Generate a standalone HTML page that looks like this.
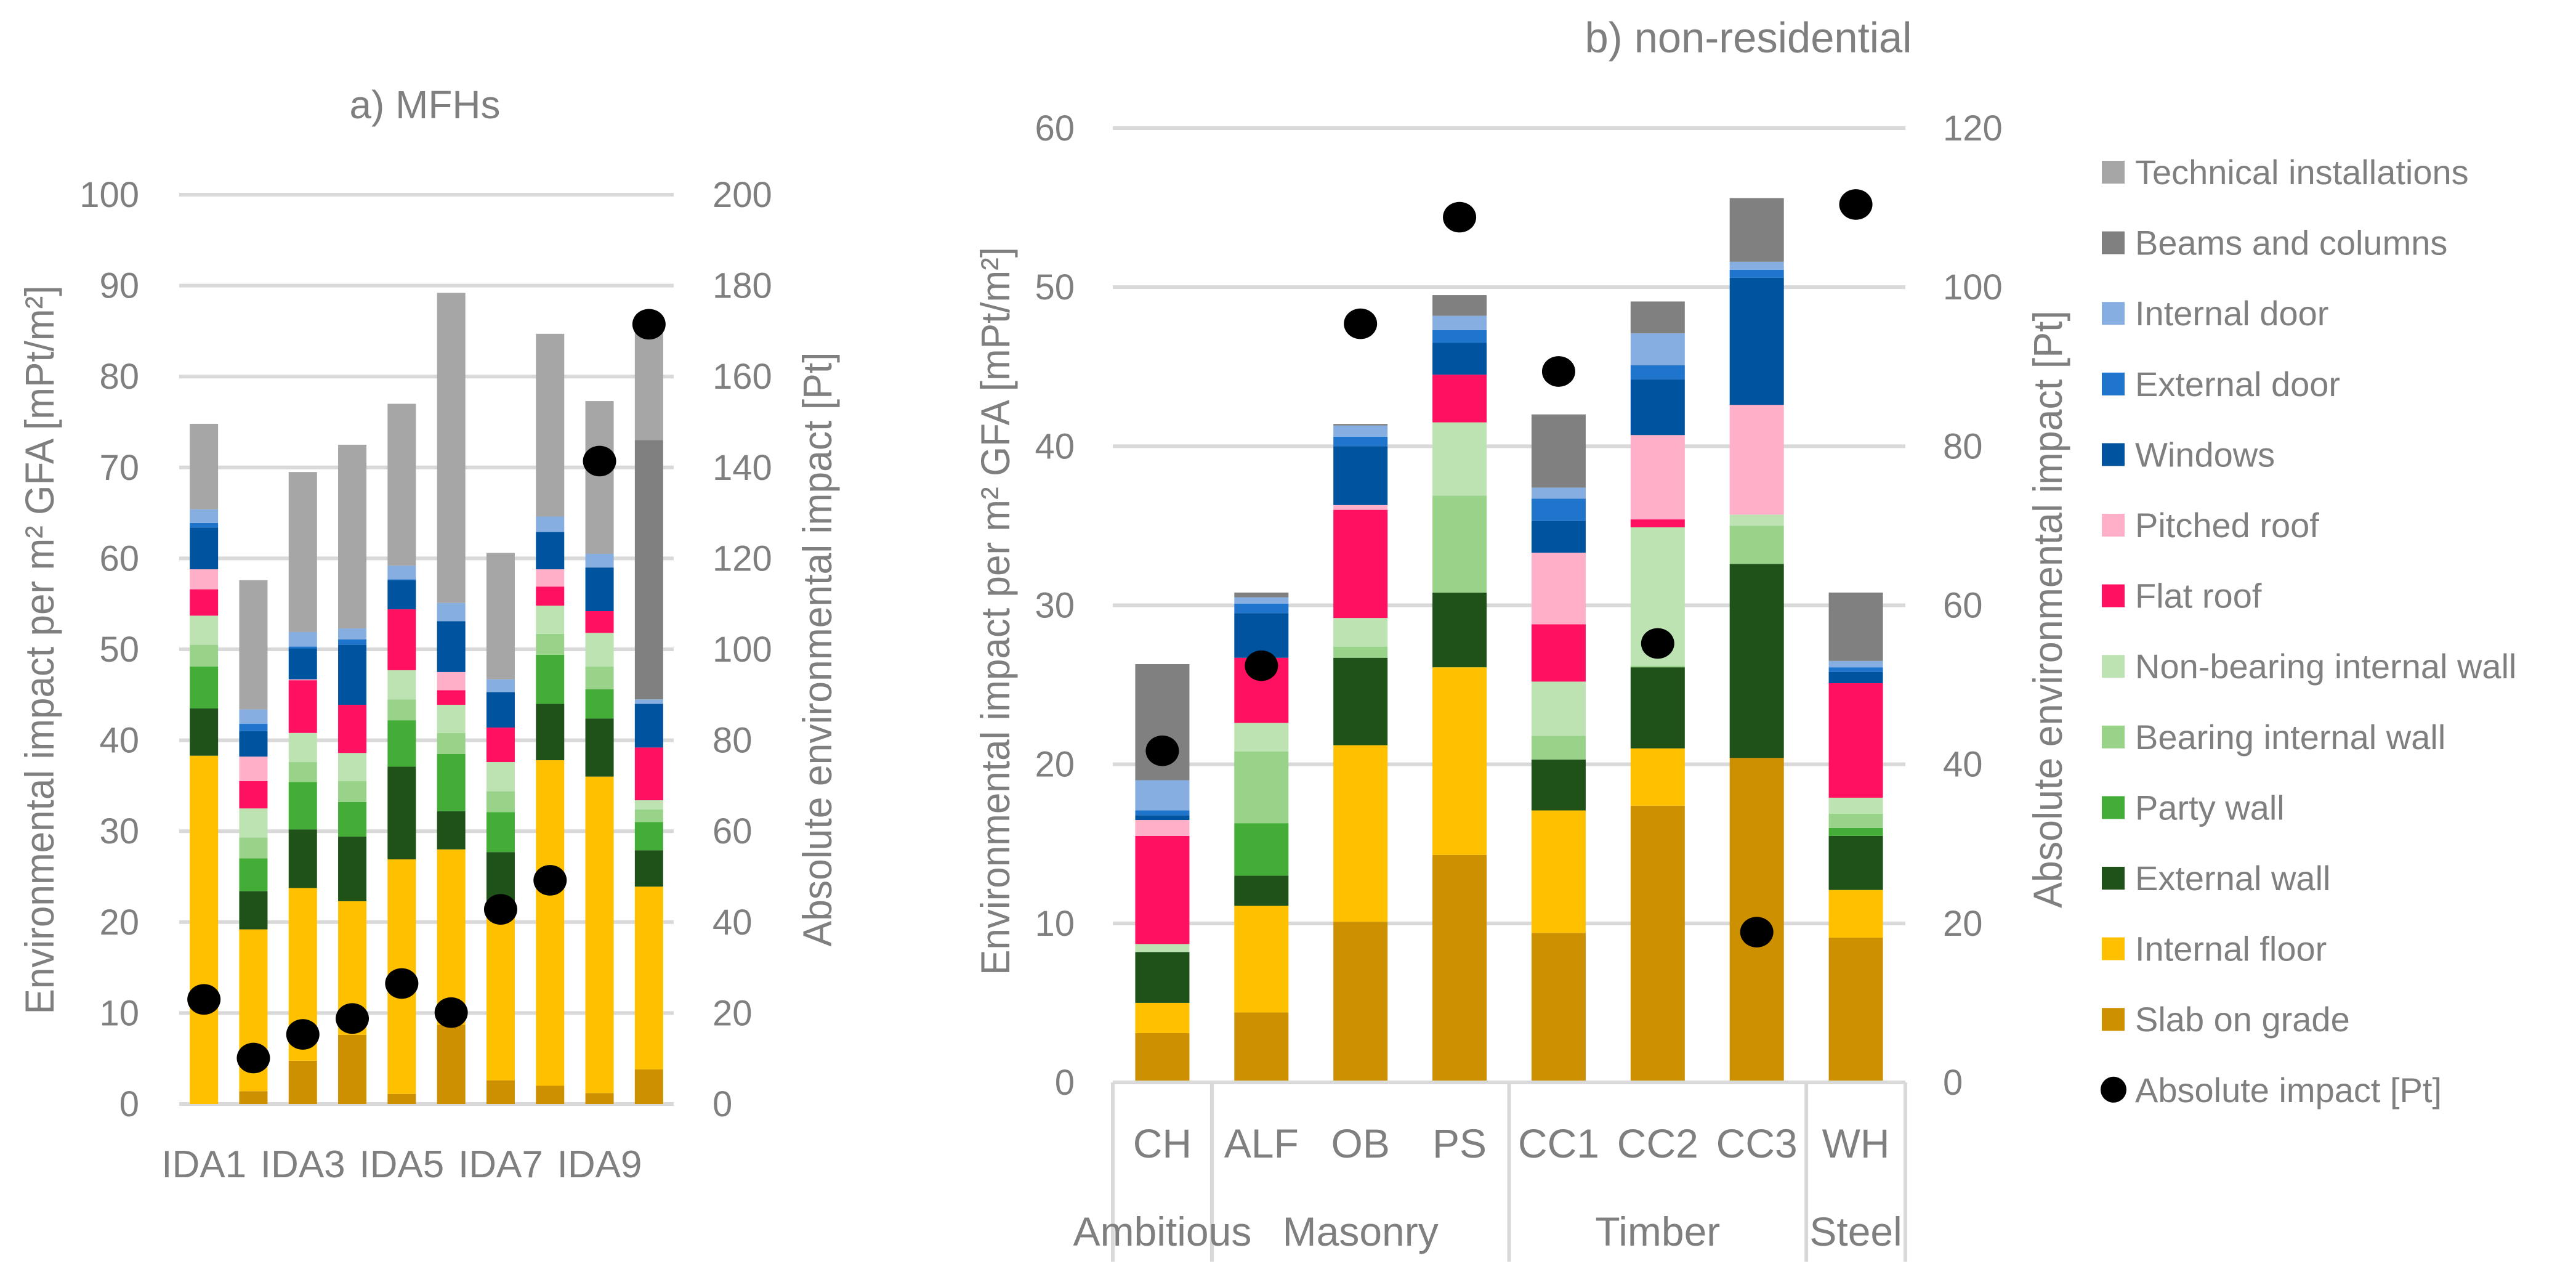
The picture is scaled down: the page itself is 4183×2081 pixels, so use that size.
<!DOCTYPE html>
<html><head><meta charset="utf-8">
<style>
html,body{margin:0;padding:0;background:#fff;}
svg{display:block;}
text{font-family:"Liberation Sans",sans-serif;fill:#7f7f7f;}
</style></head>
<body>
<svg id="chart" width="4183" height="2081" viewBox="0 0 4183 2081" xmlns="http://www.w3.org/2000/svg">
<rect width="4183" height="2081" fill="#fff"/>
<g id="gA"></g>
<g id="gB"></g>
<g id="gL"></g>
</svg>
<script>
// Components (bottom to top)
const components = ["Slab on grade","Internal floor","External wall","Party wall","Bearing internal wall","Non-bearing internal wall","Flat roof","Pitched roof","Windows","External door","Internal door","Beams and columns","Technical installations"];
const compColors = ["#CC9000","#FFC000","#1E5218","#43AD38","#99D38A","#BDE3B3","#FF1060","#FFB0C8","#00539F","#1F74CC","#86AEE0","#808080","#A6A6A6"];

// a) MFHs
const mfhCategories = ["IDA1","IDA2","IDA3","IDA4","IDA5","IDA6","IDA7","IDA8","IDA9","IDA10"];
const mfhTickLabels = ["IDA1","","IDA3","","IDA5","","IDA7","","IDA9",""];
const mfhSeries = [
 [0,38.3,5.2,4.6,2.4,3.2,2.9,2.2,4.6,0.5,1.5,0,9.4],
 [1.4,17.8,4.2,3.6,2.3,3.2,3.0,2.7,2.8,0.8,1.6,0,14.2],
 [4.75,19.0,6.45,5.2,2.2,3.2,5.8,0.1,3.4,0.2,1.6,0,17.6],
 [7.6,14.7,7.1,3.8,2.3,3.1,5.3,0,6.6,0.6,1.2,0,20.2],
 [1.1,25.8,10.2,5.1,2.3,3.2,6.7,0,3.2,0.1,1.5,0,17.8],
 [8.7,19.3,4.2,6.3,2.3,3.1,1.6,2.0,5.6,0,2.0,0,34.1],
 [2.6,18.4,6.7,4.4,2.3,3.2,3.8,0,3.9,0,1.4,0,13.9],
 [2.0,35.8,6.2,5.4,2.3,3.1,2.1,1.9,4.1,0,1.7,0,20.1],
 [1.2,34.8,6.4,3.2,2.5,3.7,2.4,0,4.8,0,1.5,0,16.8],
 [3.8,20.1,4.0,3.1,1.4,1.0,5.8,0,4.8,0,0.5,28.5,12.7]
];
const mfhAbsolute = [23.0,10.1,15.3,18.8,26.5,20.1,42.8,49.2,141.4,171.5];
const mfhLeftTicks = [0,10,20,30,40,50,60,70,80,90,100];
const mfhRightTicks = [0,20,40,60,80,100,120,140,160,180,200];

// b) non-residential
const nrCategories = ["CH","ALF","OB","PS","CC1","CC2","CC3","WH"];
const nrGroups = ["Ambitious","Masonry","Timber","Steel"];
const nrGroupStart = [0,1,4,7];
const nrGroupEnd = [1,4,7,8];
const nrSeries = [
 [3.1,1.9,3.2,0,0,0.5,6.8,1.0,0.3,0.3,1.9,7.3,0],
 [4.4,6.7,1.9,3.3,4.5,1.8,4.1,0,2.8,0.6,0.4,0.3,0],
 [10.1,11.1,5.5,0,0.7,1.8,6.8,0.3,3.7,0.6,0.7,0.1,0],
 [14.3,11.8,4.7,0,6.1,4.6,3.0,0,2.0,0.8,0.9,1.3,0],
 [9.4,7.7,3.2,0,1.5,3.4,3.6,4.5,2.0,1.4,0.7,4.6,0],
 [17.4,3.6,5.1,0,0.1,8.7,0.5,5.3,3.5,0.9,2.0,2.0,0],
 [20.4,0,12.2,0,2.4,0.7,0,6.9,8.0,0.5,0.5,4.0,0],
 [9.1,3.0,3.4,0.5,0.9,1.0,7.2,0,0.7,0.3,0.4,4.3,0]
];
const nrAbsolute = [41.7,52.4,95.4,108.8,89.4,55.2,18.9,110.4];
const nrLeftTicks = [0,10,20,30,40,50,60];
const nrRightTicks = [0,20,40,60,80,100,120];

const NS = "http://www.w3.org/2000/svg";
function mk(parent, tag, attrs, txt){
  const e = document.createElementNS(NS, tag);
  for (const k in attrs) e.setAttribute(k, attrs[k]);
  if (txt !== undefined) e.textContent = txt;
  parent.appendChild(e);
  return e;
}

function drawChart(g, cfg){
  const yL = v => cfg.y0 - (v/cfg.lMax)*(cfg.y0-cfg.yTop);
  const yR = v => cfg.y0 - (v/cfg.rMax)*(cfg.y0-cfg.yTop);
  const n = cfg.cats.length;
  const cw = (cfg.x1-cfg.x0)/n;
  const xC = i => cfg.x0 + cw*(i+0.5);
  cfg.lTicks.forEach((t,i)=>{
    const y = yL(t);
    const gl = mk(g,"line",{x1:cfg.x0,x2:cfg.x1,y1:y,y2:y,stroke:"#d9d9d9","stroke-width":6});
    
    
    const tl = mk(g,"text",{x:cfg.lTickX,y:y+20,"text-anchor":"end","font-size":58},String(t));
    
    
  });
  cfg.rTicks.forEach((t,i)=>{
    const y = yR(t);
    const tl = mk(g,"text",{x:cfg.rTickX,y:y+20,"text-anchor":"start","font-size":58},String(t));
    
    
  });
  cfg.series.forEach((vals,i)=>{
    let acc = 0;
    vals.forEach((v,k)=>{
      if (v<=0) return;
      const yt = yL(acc+v), yb = yL(acc);
      const r = mk(g,"rect",{x:xC(i)-cfg.bw/2,y:yt,width:cfg.bw,height:yb-yt,fill:compColors[k]});
      
      
      acc += v;
    });
  });
  if (cfg.boxed){
    const bl = mk(g,"line",{x1:cfg.x0,x2:cfg.x1,y1:cfg.y0,y2:cfg.y0,stroke:"#d9d9d9","stroke-width":6});
    
    
  }
  cfg.abs.forEach((v,i)=>{
    const c = mk(g,"ellipse",{cx:xC(i),cy:yR(v),rx:cfg.dotR,ry:cfg.dotR*0.92,fill:"#000"});
    
    
  });
  cfg.tickLabels.forEach((lab,i)=>{
    if (!lab) return;
    const t = mk(g,"text",{x:xC(i),y:cfg.labY,"text-anchor":"middle","font-size":cfg.labFs},lab);
    
    
  });
  return {xC, cw};
}

const gA = document.getElementById('gA');
drawChart(gA,{x0:291,x1:1094,y0:1792,yTop:316,lMax:100,rMax:200,bw:46,
  cats:mfhCategories,tickLabels:mfhTickLabels,series:mfhSeries,abs:mfhAbsolute,
  lTicks:mfhLeftTicks,rTicks:mfhRightTicks,lTickX:226,rTickX:1157,dotR:27,labY:1911,labFs:62,boxed:false});

const gB = document.getElementById('gB');
const B = drawChart(gB,{x0:1807,x1:3094,y0:1757,yTop:208,lMax:60,rMax:120,bw:88,
  cats:nrCategories,tickLabels:nrCategories,series:nrSeries,abs:nrAbsolute,
  lTicks:nrLeftTicks,rTicks:nrRightTicks,lTickX:1745,rTickX:3155,dotR:27,labY:1879,labFs:66,boxed:true});
const sepIdx = [0,1,4,7,8];
sepIdx.forEach(k=>{
  const x = 1807 + B.cw*k;
  const l = mk(gB,"line",{x1:x,x2:x,y1:1757,y2:2048,stroke:"#d9d9d9","stroke-width":6});
  
  
});
nrGroups.forEach((name,i)=>{
  const cx = 1807 + B.cw*(nrGroupStart[i]+nrGroupEnd[i])/2;
  const t = mk(gB,"text",{x:cx,y:2022,"text-anchor":"middle","font-size":66},name);
  
  
});

let t;
t = mk(gA,"text",{x:690,y:192,"text-anchor":"middle","font-size":64,textLength:245,lengthAdjust:"spacingAndGlyphs"},"a) MFHs");


t = mk(gB,"text",{x:2839,y:85,"text-anchor":"middle","font-size":70,textLength:531,lengthAdjust:"spacingAndGlyphs"},"b) non-residential");



function vtitle(g,x,y,len,txt,name){
  const e = mk(g,"text",{x:0,y:0,"text-anchor":"middle","font-size":66,textLength:len,lengthAdjust:"spacingAndGlyphs",transform:`translate(${x},${y}) rotate(-90)`},txt);
  
  
}
vtitle(gA,87,1055,1183,"Environmental impact per m² GFA [mPt/m²]","y-axis-title-left");
vtitle(gA,1350,1054,965,"Absolute environmental impact [Pt]","y-axis-title-right");
vtitle(gB,1639,992,1182,"Environmental impact per m² GFA [mPt/m²]","y-axis-title-left");
vtitle(gB,3348,989,970,"Absolute environmental impact [Pt]","y-axis-title-right");

const gL = document.getElementById('gL');
const legendOrder = [12,11,10,9,8,7,6,5,4,3,2,1,0];
legendOrder.forEach((k,j)=>{
  const cy = 279 + j*114.6;
  const r = mk(gL,"rect",{x:3413,y:cy-18,width:37,height:37,fill:compColors[k]});
  
  
  const tx = mk(gL,"text",{x:3467,y:cy+20,"font-size":56},components[k]);
  
  
});
{
  const cy = 279 + 13*114.6;
  const c = mk(gL,"circle",{cx:3432,cy:cy,r:21,fill:"#000"});
  
  
  const tx = mk(gL,"text",{x:3467,y:cy+20,"font-size":56},"Absolute impact [Pt]");
  
  
}
</script>
</body></html>
